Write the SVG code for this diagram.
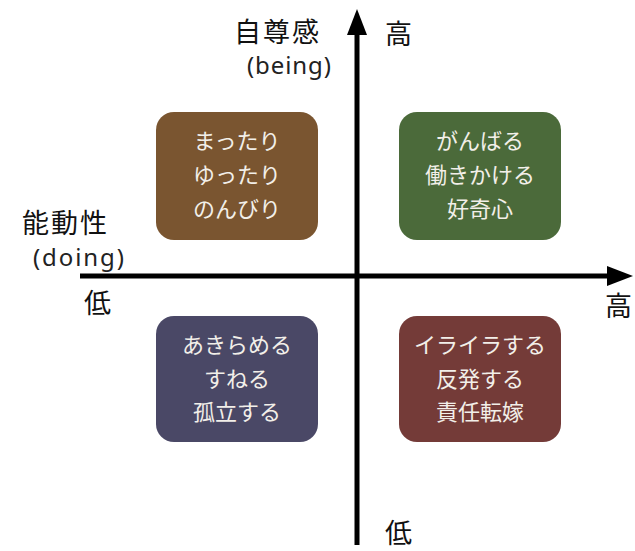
<svg xmlns="http://www.w3.org/2000/svg" width="635" height="551" viewBox="0 0 635 551">
<style>
.box text{font-family:"Noto Sans CJK JP",sans-serif;font-size:22px;fill:#f2efe9;text-anchor:middle}
.lbl{font-family:"Noto Sans CJK JP",sans-serif;font-size:27px;fill:#111}
.en{font-family:"Noto Sans",sans-serif;font-size:24px;fill:#222}
</style>
<rect width="635" height="551" fill="#fff"/>
<g id="connectors">
<line x1="357" y1="545" x2="357" y2="30" stroke="#000" stroke-width="5"/>
<polygon points="357,9 367,35 347,35" fill="#000"/>
<line x1="80" y1="276" x2="612" y2="276" stroke="#000" stroke-width="5"/>
<polygon points="633,276 607,266 607,286" fill="#000"/>
</g>
<g id="box-tl" class="box">
<rect x="156" y="112" width="162" height="128" rx="18" fill="#7a5530"/>
<text x="237" y="149">まったり</text>
<text x="237" y="183">ゆったり</text>
<text x="237" y="217">のんびり</text>
</g>
<g id="box-tr" class="box">
<rect x="399" y="112" width="162" height="128" rx="18" fill="#4b6a3a"/>
<text x="480" y="149">がんばる</text>
<text x="480" y="183">働きかける</text>
<text x="480" y="217">好奇心</text>
</g>
<g id="box-bl" class="box">
<rect x="156" y="316" width="162" height="126" rx="18" fill="#4a4866"/>
<text x="237" y="353">あきらめる</text>
<text x="237" y="387">すねる</text>
<text x="237" y="420">孤立する</text>
</g>
<g id="box-br" class="box">
<rect x="399" y="316" width="162" height="126" rx="18" fill="#743b38"/>
<text x="480" y="353">イライラする</text>
<text x="480" y="387">反発する</text>
<text x="480" y="420">責任転嫁</text>
</g>
<g id="labels">
<text class="lbl" x="234" y="42" textLength="85">自尊感</text>
<text class="en" x="247" y="74" textLength="84">(being)</text>
<text class="lbl" x="385" y="44">高</text>
<text class="lbl" x="22" y="233" textLength="85">能動性</text>
<text class="en" x="33" y="266" textLength="91">(doing)</text>
<text class="lbl" x="84" y="313">低</text>
<text class="lbl" x="605" y="316">高</text>
<text class="lbl" x="385" y="543">低</text>
</g>
</svg>
